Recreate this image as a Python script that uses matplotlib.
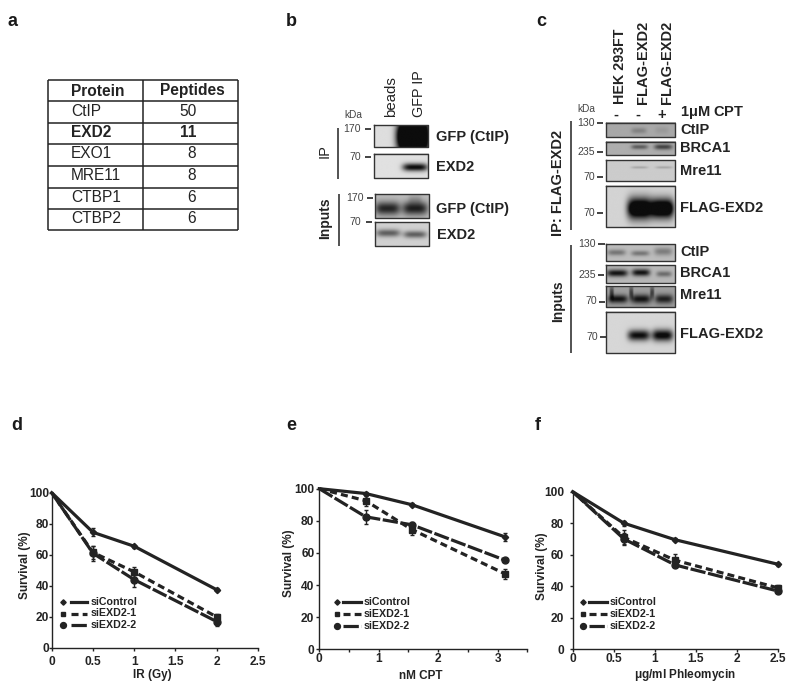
import numpy as np
import matplotlib
matplotlib.use("Agg")
import matplotlib.pyplot as plt
from matplotlib.ticker import MultipleLocator, FixedLocator

plt.rcParams['font.family'] = ['Liberation Sans', 'DejaVu Sans']
INK = '#232323'
W, H = 800, 688

# ---- data: panel a
proteins = ['CtIP', 'EXD2', 'EXO1', 'MRE11', 'CTBP1', 'CTBP2']
peptides = [50, 11, 8, 8, 6, 6]

# ---- data: survival panels
series_names = ['siControl', 'siEXD2-1', 'siEXD2-2']

d_x = [0, 0.5, 1, 2]
d_ctrl = [100, 74.5, 65.5, 37.5]
d_e1 = [100, 61.5, 49, 20]
d_e2 = [100, 61, 44, 17]
d_ctrl_err = [0, 2.5, 1, 1]
d_e1_err = [0, 4, 3, 2]
d_e2_err = [0, 5, 4.5, 3]

e_x = [0, 0.78, 1.56, 3.125]
e_ctrl = [100, 97, 90, 70]
e_e1 = [100, 92.5, 74.5, 47]
e_e2 = [100, 82.5, 77.5, 55.5]
e_ctrl_err = [0, 1, 1, 2.5]
e_e1_err = [0, 3, 3.5, 3]
e_e2_err = [0, 4.5, 2, 1]

f_x = [0, 0.625, 1.25, 2.5]
f_ctrl = [100, 80, 69.5, 54]
f_e1 = [100, 71, 56.5, 39]
f_e2 = [100, 70, 53.5, 37]
f_ctrl_err = [0, 1.5, 1, 1]
f_e1_err = [0, 4.5, 4, 1.5]
f_e2_err = [0, 4, 1.5, 1.5]

fig = plt.figure(figsize=(W / 100, H / 100), dpi=100, facecolor='white')
ov = fig.add_axes([0, 0, 1, 1], zorder=5)
ov.set_xlim(0, W)
ov.set_ylim(H, 0)
ov.axis('off')
ov.patch.set_alpha(0)


def txt(x, y, s, size=10.5, weight='normal', ha='left', va='center', rot=0, color=INK):
    ov.text(x, y, s, fontsize=size, fontweight=weight, ha=ha, va=va, rotation=rot,
            color=color, rotation_mode='anchor' if rot else 'default')


def ln(xs, ys, lw=1.0, color=INK):
    ov.plot(xs, ys, color=color, lw=lw, solid_capstyle='butt', clip_on=False)


# panel letters
for s, x, y in [('a', 8, 21), ('b', 286, 21), ('c', 536, 21),
                ('d', 11, 425), ('e', 286, 425), ('f', 535, 425)]:
    txt(x, y, s, size=13, weight='bold', color='#1a1a1a')

# ---- panel a: table
tx = [48, 143, 238]
ty = [80, 101, 123, 144, 166, 188, 209, 230]
num_x = [188, 188, 192, 192, 192, 192]
for y in ty:
    ln([tx[0], tx[2]], [y, y], lw=1.1)
for x in tx:
    ln([x, x], [ty[0], ty[-1]], lw=1.1)
txt(71, (ty[0] + ty[1]) / 2 + .5, 'Protein', size=11.2, weight='bold')
txt(192.5, (ty[0] + ty[1]) / 2 + .5, 'Peptides', size=11.2, weight='bold', ha='center')
for i, (p, n) in enumerate(zip(proteins, peptides)):
    w = 'bold' if p == 'EXD2' else 'normal'
    yc = (ty[i + 1] + ty[i + 2]) / 2 - 1
    txt(71, yc, p, size=11.2, weight=w)
    txt(num_x[i], yc, str(n), size=11.2, weight=w, ha='center')


# ---- blots
def blot(box, bg, bands):
    x0, y0, x1, y1 = box
    ny, nx = max(int(y1 - y0) * 3, 4), max(int(x1 - x0) * 3, 4)
    yy, xx = np.mgrid[0:1:ny * 1j, 0:1:nx * 1j]
    im = np.full((ny, nx), float(bg))
    for cx, cy, sx, sy, amp in bands:
        im -= amp * np.exp(-((xx - cx) / sx) ** 4 - ((yy - cy) / sy) ** 2)
    ov.imshow(np.clip(im, 0.05, 1), cmap='gray', vmin=0, vmax=1, extent=[x0, x1, y1, y0],
              aspect='auto', interpolation='bilinear', zorder=1)
    ov.plot([x0, x1, x1, x0, x0], [y0, y0, y1, y1, y0], color='#333333', lw=1.0, zorder=2)


# panel b
blot([374, 125.3, 428.3, 146.7], 0.87, [(0.71, 0.52, 0.29, 0.80, 1.8)])
blot([374, 153.7, 428.3, 178.3], 0.88, [(0.75, 0.57, 0.23, 0.16, 0.85)])
blot([374.5, 193.7, 429, 217.7], 0.74, [(0.23, 0.60, 0.23, 0.28, 0.60), (0.73, 0.60, 0.23, 0.28, 0.62),
                                         (0.73, 0.22, 0.12, 0.22, 0.12)])
blot([374.5, 222.3, 429, 246], 0.82, [(0.24, 0.46, 0.22, 0.16, 0.45), (0.73, 0.52, 0.21, 0.15, 0.45)])

txt(391, 117, 'beads', size=10.8, rot=90, va='center')
txt(419, 117, 'GFP IP', size=10.4, rot=90, va='center')
txt(344, 114.5, 'kDa', size=7.3, color='#444444')
for s, xr, y, a, b in [('170', 361, 129, 365, 371), ('70', 361, 157, 365, 371),
                       ('170', 364, 198, 367, 373), ('70', 361, 222, 366, 372)]:
    txt(xr, y, s, size=7.6, ha='right', color='#444444')
    ln([a, b], [y, y], lw=1.2)
for s, y in [('GFP (CtIP)', 137.5), ('EXD2', 167)]:
    txt(436, y, s, size=10.5, weight='bold')
for s, y in [('GFP (CtIP)', 208.5), ('EXD2', 235)]:
    txt(436.5, y, s, size=10.5, weight='bold')
ln([338, 338], [128, 179], lw=1.1)
ln([338.5, 338.5], [194, 246], lw=1.1)
txt(325, 151, 'IP', size=10.5, rot=90, ha='center', weight='normal')
txt(325, 218, 'Inputs', size=10, rot=90, ha='center', weight='bold')

# panel c
CX = [605.7, 675]
blot([CX[0], 122.7, CX[1], 137.3], 0.66, [(0.47, 0.58, 0.11, 0.20, 0.15), (0.80, 0.55, 0.10, 0.25, 0.06)])
blot([CX[0], 142, CX[1], 155.3], 0.68, [(0.48, 0.42, 0.12, 0.17, 0.32), (0.82, 0.42, 0.13, 0.20, 0.42)])
blot([CX[0], 160.3, CX[1], 181], 0.80, [(0.48, 0.35, 0.12, 0.06, 0.15), (0.83, 0.35, 0.12, 0.06, 0.15)])
blot([CX[0], 185.7, CX[1], 227.3], 0.83, [(0.485, 0.56, 0.18, 0.25, 1.2), (0.81, 0.56, 0.16, 0.23, 1.2)])
blot([CX[0], 244, CX[1], 260.7], 0.74, [(0.15, 0.50, 0.13, 0.18, 0.28), (0.49, 0.55, 0.13, 0.16, 0.28),
                                        (0.82, 0.44, 0.13, 0.24, 0.25)])
blot([CX[0], 265.3, CX[1], 282.7], 0.72, [(0.16, 0.45, 0.15, 0.20, 0.65), (0.50, 0.42, 0.13, 0.20, 0.65),
                                          (0.83, 0.50, 0.11, 0.16, 0.30)])
blot([CX[0], 286, CX[1], 306.7], 0.62, [(0.17, 0.62, 0.14, 0.20, 0.55), (0.50, 0.62, 0.14, 0.22, 0.55),
                                        (0.83, 0.62, 0.13, 0.22, 0.50), (0.08, 0.30, 0.03, 0.30, 0.35),
                                        (0.36, 0.30, 0.03, 0.30, 0.35), (0.66, 0.30, 0.03, 0.30, 0.35)])
blot([CX[0], 311.7, CX[1], 353.3], 0.84, [(0.47, 0.58, 0.16, 0.13, 0.8), (0.81, 0.58, 0.15, 0.14, 0.85)])

txt(620.5, 104, 'HEK 293FT', size=10.3, rot=90, va='center', weight='bold')
txt(643.5, 104, 'FLAG-EXD2', size=10.5, rot=90, va='center', weight='bold')
txt(667.5, 104, 'FLAG-EXD2', size=10.5, rot=90, va='center', weight='bold')
txt(616, 114.5, '-', size=10.5, ha='center', weight='bold')
txt(638, 114.5, '-', size=10.5, ha='center', weight='bold')
txt(662, 114.5, '+', size=10.5, ha='center', weight='bold')
txt(680, 112.5, '1$\\mathregular{\\mu}$M CPT', size=10.5, weight='bold')
txt(577, 109, 'kDa', size=7.3, color='#444444')
for s, y, a, b in [('130', 122.5, 597, 603), ('235', 152, 597, 603), ('70', 176.5, 597, 603),
                   ('70', 212.5, 597, 603), ('130', 244, 598, 605), ('235', 275, 598, 604),
                   ('70', 301.5, 599, 605), ('70', 337, 600, 606)]:
    txt(a - 2, y, s, size=7.6, ha='right', color='#444444')
    ln([a, b], [y, y], lw=1.2)
for s, y in [('CtIP', 130), ('BRCA1', 148.5), ('Mre11', 171), ('FLAG-EXD2', 208),
             ('CtIP', 252), ('BRCA1', 273), ('Mre11', 295), ('FLAG-EXD2', 334)]:
    txt(680, y, s, size=10.5, weight='bold')
ln([571, 571], [121, 229.5], lw=1.1)
ln([571, 571], [245, 353], lw=1.1)
txt(558, 183, 'IP: FLAG-EXD2', size=10.5, rot=90, ha='center', weight='bold')
txt(558, 301.5, 'Inputs', size=10, rot=90, ha='center', weight='bold')


# ---- survival panels
def survival(x0, x1, y0, y1, xmax, x, ys, errs, xlabel, xlab_px, ylab_px, major, leg, ypad, xpad):
    ax = fig.add_axes([x0 / W, 1 - y0 / H, (x1 - x0) / W, (y0 - y1) / H], zorder=3)
    ax.patch.set_alpha(0)
    ax.set_xlim(0, xmax)
    ax.set_ylim(0, 100)
    styles = [('D', '-', 3.2), ('s', (0, (2.2, 1.3)), 4.2), ('o', (0, (4.8, 0.8)), 5.0)]
    for (mk, ls, ms), yv, ev, name in zip(styles, ys, errs, series_names):
        ax.errorbar(x, yv, yerr=ev, color=INK, ecolor=INK, elinewidth=1, capsize=1.6, capthick=1,
                    lw=2.3, ls=ls, marker=mk, ms=ms, markevery=(1, 1), errorevery=(1, 1),
                    clip_on=False, label=name)
    for s in ('top', 'right'):
        ax.spines[s].set_visible(False)
    for s in ('left', 'bottom'):
        ax.spines[s].set_color(INK)
        ax.spines[s].set_linewidth(1.0)
    ax.yaxis.set_major_locator(MultipleLocator(20))
    ax.xaxis.set_major_locator(FixedLocator(major))
    if xmax == 3.5:
        ax.xaxis.set_minor_locator(MultipleLocator(0.5))
        ax.tick_params(axis='x', which='minor', length=2, width=1, color=INK)
    ax.tick_params(axis='both', which='major', length=2, width=1, color=INK, labelcolor=INK,
                   labelsize=8.6)
    ax.tick_params(axis='y', pad=ypad)
    ax.tick_params(axis='x', pad=xpad)
    ax.set_xticklabels(['%g' % t for t in major])
    for t in ax.get_xticklabels() + ax.get_yticklabels():
        t.set_fontweight('bold')
    ax.set_xlabel(xlabel, fontsize=8.5, fontweight='bold', color=INK)
    ax.set_ylabel('Survival (%)', fontsize=8.5, fontweight='bold', color=INK)
    inv = ax.transAxes.inverted()
    to_ax = lambda px, py: inv.transform((px, H - py))
    ax.xaxis.set_label_coords(*to_ax(*xlab_px))
    ax.yaxis.set_label_coords(*to_ax(*ylab_px))
    ax.xaxis.label.set_verticalalignment('center')
    ax.yaxis.label.set_verticalalignment('center')
    # hand-placed key: marker, gap, line sample, label
    mx, lx0, lx1, tx_, lys = leg
    for (mk, ls, ms), name, ly in zip(styles, series_names, lys):
        ov.plot([mx], [ly], marker=mk, ms=ms * 0.85, color=INK, ls='none')
        ov.plot([lx0, lx1], [ly, ly], color=INK, lw=2.3, ls=ls)
        txt(tx_, ly, name, size=7.7, weight='bold')
    return ax


survival(51.7, 258, 648, 492.7, 2.5, d_x, [d_ctrl, d_e1, d_e2], [d_ctrl_err, d_e1_err, d_e2_err],
         'IR (Gy)', (152, 675), (25, 565), [0, 0.5, 1, 1.5, 2, 2.5],
         (63, 71, 87, 91, [602, 613.5, 625]), 0, 3.5)
survival(319.3, 527.3, 649.3, 488.7, 3.5, e_x, [e_ctrl, e_e1, e_e2], [e_ctrl_err, e_e1_err, e_e2_err],
         'nM CPT', (421, 676), (289, 563), [0, 1, 2, 3],
         (337, 343, 361, 364, [602, 614, 626]), 1.5, 1)
survival(572.7, 777.7, 649.3, 491.7, 2.5, f_x, [f_ctrl, f_e1, f_e2], [f_ctrl_err, f_e1_err, f_e2_err],
         '$\\mathregular{\\mu}$g/ml Phleomycin', (685, 675), (542, 566), [0, 0.5, 1, 1.5, 2, 2.5],
         (583, 589, 607, 610, [602, 614, 626]), 4, 0.5)

ov.set_xlim(0, W)
ov.set_ylim(H, 0)
fig.savefig('out.png', dpi=100, facecolor='white')
